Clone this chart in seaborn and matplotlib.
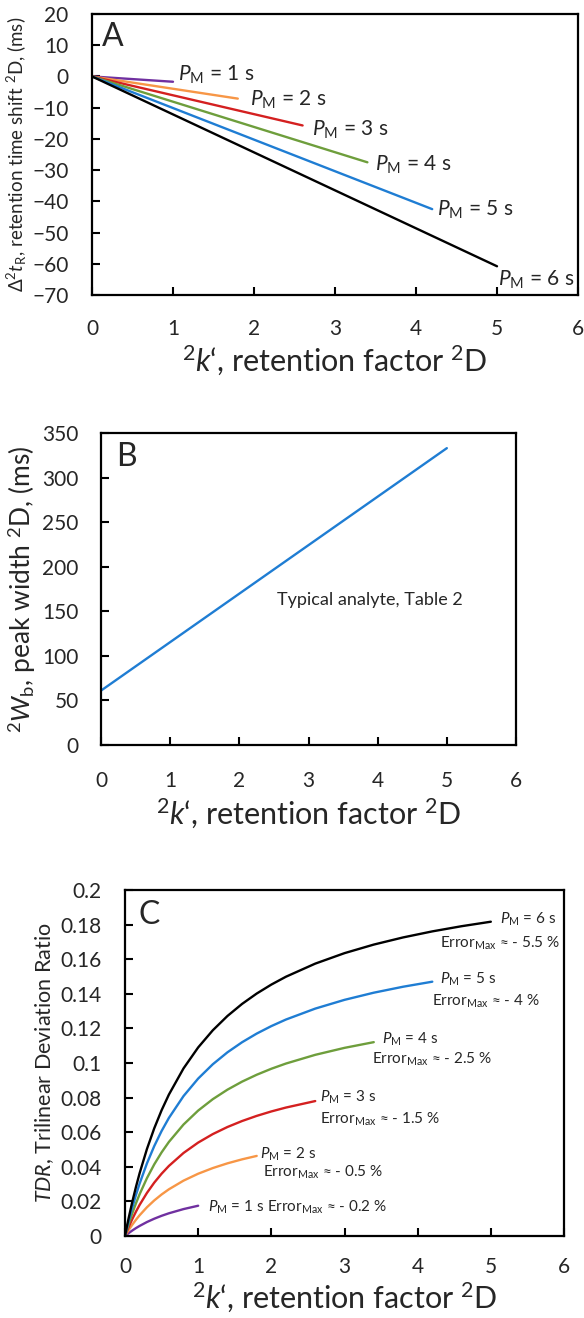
import numpy as np
import pandas as pd
import matplotlib
matplotlib.use("Agg")
import matplotlib.pyplot as plt
import seaborn as sns

sns.set_style("ticks")
plt.rcParams["font.family"] = ["Lato", "DejaVu Sans"]
plt.rcParams["mathtext.fontset"] = "custom"
plt.rcParams["mathtext.rm"] = "Lato"
plt.rcParams["mathtext.it"] = "Lato:italic"
plt.rcParams["mathtext.bf"] = "Lato:bold"

# ---------------- data ----------------
pm_values = [1, 2, 3, 4, 5, 6]          # modulation period P_M (s)
colors = ["#7030A0", "#F79646", "#D42020", "#6E9E3C", "#1F7DD3", "#000000"]

# Panel A: retention time shift, straight lines from the origin
a_k_end = [1.0, 1.8, 2.6, 3.4, 4.2, 5.0]
a_shift_end = [-1.7, -7.1, -15.7, -27.5, -42.5, -60.8]

# Panel B: peak width of the typical analyte
b_k = [0.0, 5.0]
b_width = [61.0, 333.0]

# Panel C: trilinear deviation ratio
c_k = [0.0, 0.025, 0.05, 0.1, 0.15, 0.2, 0.3, 0.4, 0.5, 0.6, 0.8, 1.0, 1.2,
       1.4, 1.6, 1.8, 2.0, 2.2, 2.6, 3.0, 3.4, 3.8, 4.2, 4.6, 5.0]
c_tdr_1 = [0, 0.00085, 0.00167, 0.00318, 0.00457, 0.00583, 0.00808, 0.01000,
           0.01167, 0.01313, 0.01556, 0.0175]
c_tdr_2 = [0, 0.00176, 0.00343, 0.00655, 0.00939, 0.0120, 0.01662, 0.02057,
           0.0240, 0.0270, 0.0320, 0.0360, 0.03927, 0.0420, 0.04431, 0.04629]
c_tdr_3 = [0, 0.00263, 0.00514, 0.00982, 0.01409, 0.0180, 0.02492, 0.03086,
           0.0360, 0.0405, 0.0480, 0.0540, 0.05891, 0.0630, 0.06646, 0.06943,
           0.0720, 0.07425, 0.0780]
c_tdr_4 = [0, 0.00354, 0.00690, 0.01318, 0.01891, 0.02417, 0.03346, 0.04143,
           0.04833, 0.05438, 0.06444, 0.0725, 0.07909, 0.08458, 0.08923,
           0.09321, 0.09667, 0.09969, 0.10472, 0.10875, 0.11205]
c_tdr_5 = [0, 0.00444, 0.00867, 0.01655, 0.02374, 0.03033, 0.042, 0.052,
           0.06067, 0.06825, 0.08089, 0.091, 0.09927, 0.10617, 0.112, 0.117,
           0.12133, 0.12513, 0.13144, 0.1365, 0.14064, 0.14408, 0.147]
c_tdr_6 = [0, 0.00532, 0.01038, 0.01982, 0.02843, 0.03633, 0.05031, 0.06229,
           0.07267, 0.08175, 0.09689, 0.109, 0.11891, 0.12717, 0.13415,
           0.14014, 0.14533, 0.14988, 0.15744, 0.1635, 0.16845, 0.17258,
           0.17608, 0.17907, 0.18167]
c_tdr = [c_tdr_1, c_tdr_2, c_tdr_3, c_tdr_4, c_tdr_5, c_tdr_6]
c_error = ["- 0.2", "- 0.5", "- 1.5", "- 2.5", "- 4", "- 5.5"]

# ---------------- figure ----------------
W, H = 584, 1318
fig = plt.figure(figsize=(W / 100, H / 100), dpi=100)


def axes_px(left, right, top, bottom):
    return fig.add_axes([left / W, 1 - bottom / H, (right - left) / W, (bottom - top) / H])


TICK_FS = 15
XLABEL_FS = 22
XLABEL = r"$^{2}k$‘, retention factor $^{2}$D"


def style(ax, xpad=18, ypad=17):
    for s in ax.spines.values():
        s.set_visible(True)
        s.set_color("black")
        s.set_linewidth(1.6)
    ax.tick_params(direction="in", length=5.5, width=1.5, color="black",
                   labelsize=TICK_FS, top=False, right=False)
    ax.tick_params(axis="x", pad=xpad)
    ax.tick_params(axis="y", pad=ypad)
    ax.set_xlim(0, 6)
    ax.set_xticks(range(0, 7))
    ax.grid(False)


# ---- Panel A ----
axA = axes_px(92, 578, 14, 295)
for pm, kend, send, c in zip(pm_values, a_k_end, a_shift_end, colors):
    sns.lineplot(x=[0.0, kend], y=[0.0, send], ax=axA, color=c, lw=1.7,
                 sort=False, estimator=None)
a_lab_xy = [(1.06, 0.5), (1.95, -7.5), (2.72, -17.2), (3.49, -28.4),
            (4.26, -42.8), (5.01, -65.2)]
for pm, (x, y) in zip(pm_values, a_lab_xy):
    axA.text(x, y, rf"$P_\mathrm{{M}}$ = {pm} s", fontsize=15, va="center", ha="left")
axA.set_ylim(-70, 20)
axA.set_yticks(range(-70, 21, 10))
style(axA, xpad=17, ypad=17)
axA.set_xlabel(XLABEL, fontsize=XLABEL_FS, labelpad=4)
axA.set_ylabel(r"$\Delta^{2}t_{\mathrm{R}}$, retention time shift $^{2}$D, (ms)",
               fontsize=13.5, labelpad=2)
axA.text(0.02, 0.97, "A", transform=axA.transAxes, fontsize=23, ha="left", va="top")

# ---- Panel B ----
axB = axes_px(101, 516, 433, 745)
sns.lineplot(x=b_k, y=b_width, ax=axB, color="#1F7DD3", lw=1.7)
axB.text(2.54, 163, "Typical analyte, Table 2", fontsize=13, va="center", ha="left")
axB.set_ylim(0, 350)
axB.set_yticks(range(0, 351, 50))
style(axB, xpad=19, ypad=16)
axB.set_xlabel(XLABEL, fontsize=XLABEL_FS, labelpad=4)
axB.set_ylabel(r"$^{2}W_{\mathrm{b}}$, peak width $^{2}$D, (ms)", fontsize=19, labelpad=3)
axB.text(0.036, 0.97, "B", transform=axB.transAxes, fontsize=23, ha="left", va="top")

# ---- Panel C ----
axC = axes_px(125, 564, 890, 1236)
for vals, c in zip(c_tdr, colors):
    sns.lineplot(x=c_k[:len(vals)], y=vals, ax=axC, color=c, lw=1.7)
c_pm_xy = [(1.13, 0.0166), (1.85, 0.0472), (2.67, 0.0802), (3.51, 0.1136),
           (4.30, 0.1483), (5.13, 0.1833)]
c_err_xy = [(1.94, 0.0166), (1.88, 0.0368), (2.67, 0.0677), (3.37, 0.1019),
            (4.20, 0.1354), (4.30, 0.1692)]
for pm, (px, py), (ex, ey), err in zip(pm_values, c_pm_xy, c_err_xy, c_error):
    axC.text(px, py, rf"$P_\mathrm{{M}}$ = {pm} s", fontsize=11, va="center", ha="left")
    axC.text(ex, ey, rf"Error$_\mathrm{{Max}}$ ≈ {err} %", fontsize=11,
             va="center", ha="left")
axC.set_ylim(0, 0.2)
c_yticks = np.round(np.arange(0, 0.201, 0.02), 2)
axC.set_yticks(c_yticks)
axC.set_yticklabels([f"{v:g}" for v in c_yticks])
style(axC, xpad=15, ypad=17)
axC.set_xlabel(XLABEL, fontsize=XLABEL_FS, labelpad=3)
axC.set_ylabel(r"$TDR$, Trilinear Deviation Ratio", fontsize=15.5, labelpad=3)
axC.text(0.03, 0.97, "C", transform=axC.transAxes, fontsize=23, ha="left", va="top")

fig.savefig("out.png", dpi=100, facecolor="white")
